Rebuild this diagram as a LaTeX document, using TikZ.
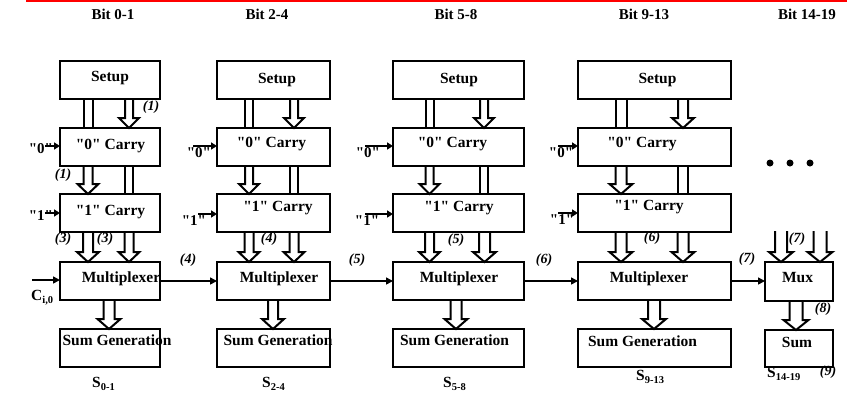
\documentclass[tikz,border=0pt]{standalone}
\usepackage{fontspec}
\setmainfont{Liberation Serif}[Ligatures=TeXOff]
\usetikzlibrary{calc,arrows.meta}
\newcommand\subtxt[1]{\raisebox{-3.5pt}{\fontsize{10.5}{11}\selectfont #1}}
% fat hollow arrow: start point, end point, x (px), half shaft width
\newcommand\fatarr[4]{%
  \draw[fatline] let \p1=#1, \p2=#2 in
    ({#3pt-#4pt},\y1) -- ({#3pt-#4pt},\y2+10pt) -- ({#3pt-#4pt-6pt},\y2+10pt)
    -- (#3pt,\y2) -- ({#3pt+#4pt+6pt},\y2+10pt) -- ({#3pt+#4pt},\y2+10pt)
    -- ({#3pt+#4pt},\y1);}
% pass-through double line
\newcommand\passln[4]{%
  \draw[fatline] let \p1=#1, \p2=#2 in
    ({#3pt-#4pt},\y1) -- ({#3pt-#4pt},\y2)
    ({#3pt+#4pt},\y1) -- ({#3pt+#4pt},\y2);}
\begin{document}
\begin{tikzpicture}[x=1pt,y=-1pt,
  box/.style={draw,line width=2.5pt,inner sep=0pt,outer sep=0pt},
  fatline/.style={line width=2pt,line join=miter},
  txt/.style={font=\fontsize{15.5}{17}\selectfont\bfseries,anchor=base,inner sep=0pt},
  lbl/.style={font=\fontsize{14}{16}\selectfont\bfseries\itshape,inner sep=0pt},
  hdr/.style={font=\fontsize{15}{17}\selectfont\bfseries,inner sep=0pt,anchor=base},
  inlbl/.style={font=\fontsize{15}{17}\selectfont\bfseries,inner sep=0pt,anchor=base},
  inarr/.style={line width=2.2pt,-{Triangle[length=6pt,width=7pt]}},
  chain/.style={line width=1.6pt,-{Triangle[length=7pt,width=7pt]}},
]
\useasboundingbox (0,0) rectangle (847,394);
\draw[red,line width=2.5pt] (26,1) -- (847,1);

% headers
\node[hdr] (h1) at (113,19) {Bit 0-1};
\node[hdr] (h2) at (267,19) {Bit 2-4};
\node[hdr] (h3) at (456,19) {Bit 5-8};
\node[hdr] (h4) at (644,19) {Bit 9-13};
\node[hdr] (h5) at (807,19) {Bit 14-19};

% boxes column 1
\node[box,minimum width=100,minimum height=38] (s1) at (110,80) {};
\node[box,minimum width=100,minimum height=38] (z1) at (110,147) {};
\node[box,minimum width=100,minimum height=38] (o1) at (110,213) {};
\node[box,minimum width=100,minimum height=38] (m1) at (110,281) {};
\node[box,minimum width=100,minimum height=38] (g1) at (110,348) {};
% column 2
\node[box,minimum width=113,minimum height=38] (s2) at (273.5,80) {};
\node[box,minimum width=113,minimum height=38] (z2) at (273.5,147) {};
\node[box,minimum width=113,minimum height=38] (o2) at (273.5,213) {};
\node[box,minimum width=113,minimum height=38] (m2) at (273.5,281) {};
\node[box,minimum width=113,minimum height=38] (g2) at (273.5,348) {};
% column 3
\node[box,minimum width=131,minimum height=38] (s3) at (458.5,80) {};
\node[box,minimum width=131,minimum height=38] (z3) at (458.5,147) {};
\node[box,minimum width=131,minimum height=38] (o3) at (458.5,213) {};
\node[box,minimum width=131,minimum height=38] (m3) at (458.5,281) {};
\node[box,minimum width=131,minimum height=38] (g3) at (458.5,348) {};
% column 4
\node[box,minimum width=153,minimum height=38] (s4) at (654.5,80) {};
\node[box,minimum width=153,minimum height=38] (z4) at (654.5,147) {};
\node[box,minimum width=153,minimum height=38] (o4) at (654.5,213) {};
\node[box,minimum width=153,minimum height=38] (m4) at (654.5,281) {};
\node[box,minimum width=153,minimum height=38] (g4) at (654.5,348) {};
% column 5
\node[box,minimum width=68,minimum height=39] (m5) at (799,281.5) {};
\node[box,minimum width=68,minimum height=37] (g5) at (799,348.5) {};

% box texts
\node[txt] (ts1) at (110,81) {Setup};
\node[txt] (tz1) at (110.5,149) {"0" Carry};
\node[txt] (to1) at (110.5,215) {"1" Carry};
\node[txt] (tm1) at (121,282) {Multiplexer};
\node[txt] (tg1) at (117,345) {Sum Generation};
\node[txt] (ts2) at (277,83) {Setup};
\node[txt] (tz2) at (271.5,147) {"0" Carry};
\node[txt] (to2) at (278,211) {"1" Carry};
\node[txt] (tm2) at (279,282) {Multiplexer};
\node[txt] (tg2) at (278,345) {Sum Generation};
\node[txt] (ts3) at (459,83) {Setup};
\node[txt] (tz3) at (452.5,147) {"0" Carry};
\node[txt] (to3) at (459,211) {"1" Carry};
\node[txt] (tm3) at (459,282) {Multiplexer};
\node[txt] (tg3) at (454.5,345) {Sum Generation};
\node[txt] (ts4) at (657.5,83) {Setup};
\node[txt] (tz4) at (642,147) {"0" Carry};
\node[txt] (to4) at (649,210) {"1" Carry};
\node[txt] (tm4) at (649,282) {Multiplexer};
\node[txt] (tg4) at (642.5,346) {Sum Generation};
\node[txt] (tm5) at (797.5,282) {Mux};
\node[txt] (tg5) at (797,347) {Sum};

% fat arrows column 1
\passln{(s1.south)}{(z1.north)}{88}{4.5}
\fatarr{(s1.south)}{(z1.north)}{129}{4}
\fatarr{(z1.south)}{(o1.north)}{88}{4.5}
\passln{(z1.south)}{(o1.north)}{129}{4}
\fatarr{(o1.south)}{(m1.north)}{88}{5}
\fatarr{(o1.south)}{(m1.north)}{129}{4.5}
\fatarr{(m1.south)}{(g1.north)}{109}{5.5}
% column 2
\passln{(s2.south)}{(z2.north)}{249}{4}
\fatarr{(s2.south)}{(z2.north)}{294}{4}
\fatarr{(z2.south)}{(o2.north)}{249}{4}
\passln{(z2.south)}{(o2.north)}{294}{4}
\fatarr{(o2.south)}{(m2.north)}{249}{4.5}
\fatarr{(o2.south)}{(m2.north)}{294}{4.5}
\fatarr{(m2.south)}{(g2.north)}{273}{5}
% column 3
\passln{(s3.south)}{(z3.north)}{429.5}{4}
\fatarr{(s3.south)}{(z3.north)}{484}{4}
\fatarr{(z3.south)}{(o3.north)}{429.5}{4}
\passln{(z3.south)}{(o3.north)}{484}{4}
\fatarr{(o3.south)}{(m3.north)}{429.5}{4.5}
\fatarr{(o3.south)}{(m3.north)}{484.5}{5.5}
\fatarr{(m3.south)}{(g3.north)}{456}{5.5}
% column 4
\passln{(s4.south)}{(z4.north)}{621}{5.5}
\fatarr{(s4.south)}{(z4.north)}{683}{5}
\fatarr{(z4.south)}{(o4.north)}{621}{5.5}
\passln{(z4.south)}{(o4.north)}{683}{5}
\fatarr{(o4.south)}{(m4.north)}{621}{5.5}
\fatarr{(o4.south)}{(m4.north)}{683}{5.5}
\fatarr{(m4.south)}{(g4.north)}{654}{6}
% column 5
\coordinate (c5l) at (781,231);
\coordinate (c5r) at (820,231);
\fatarr{(c5l)}{(m5.north)}{781}{6}
\fatarr{(c5r)}{(m5.north)}{820}{6.5}
\fatarr{(m5.south)}{(g5.north)}{796}{6.5}

% carry inputs
\coordinate (a01) at (45,146);  \coordinate (a11) at (45,213);
\coordinate (a02) at (193,146); \coordinate (a12) at (198,214);
\coordinate (a03) at (365,146); \coordinate (a13) at (365,214);
\coordinate (a04) at (558,146); \coordinate (a14) at (558,213);
\foreach \c/\b in {a01/z1,a11/o1,a02/z2,a12/o2,a03/z3,a13/o3,a04/z4,a14/o4}
  \draw[inarr] (\c) -- (\c -| \b.west);
\node[inlbl] (n01) at (41,153) {"0"};
\node[inlbl] (n11) at (41,220) {"1"};
\node[inlbl] (n02) at (199,157) {"0"};
\node[inlbl] (n12) at (194,225) {"1"};
\node[inlbl] (n03) at (368,157) {"0"};
\node[inlbl] (n13) at (367,225) {"1"};
\node[inlbl] (n04) at (561,157) {"0"};
\node[inlbl] (n14) at (562,224) {"1"};

% carry-in and multiplexer chain
\coordinate (cin0) at (32,280);
\draw[chain] (cin0) -- (cin0 -| m1.west);
\node[txt,anchor=base west] (cin) at (31,300) {C\subtxt{i,0}};
\draw[chain] (m1.east) -- (m1.east -| m2.west);
\draw[chain] (m2.east) -- (m2.east -| m3.west);
\draw[chain] (m3.east) -- (m3.east -| m4.west);
\draw[chain] (m4.east) -- (m4.east -| m5.west);

% sum outputs
\node[txt,anchor=base west] (so1) at (92,387) {S\subtxt{0-1}};
\node[txt,anchor=base west] (so2) at (262,387) {S\subtxt{2-4}};
\node[txt,anchor=base west] (so3) at (443,387) {S\subtxt{5-8}};
\node[txt,anchor=base west] (so4) at (636,380) {S\subtxt{9-13}};
\node[txt,anchor=base west] (so5) at (767,377) {S\subtxt{14-19}};

% step labels
\node[lbl] (l1a) at (151,107) {(1)};
\node[lbl] (l1b) at (63,175) {(1)};
\node[lbl] (l3a) at (63,239) {(3)};
\node[lbl] (l3b) at (105,239) {(3)};
\node[lbl] (l4a) at (188,260) {(4)};
\node[lbl] (l4b) at (269,239) {(4)};
\node[lbl] (l5a) at (357,260) {(5)};
\node[lbl] (l5b) at (456,240) {(5)};
\node[lbl] (l6a) at (544,260) {(6)};
\node[lbl] (l6b) at (652,238) {(6)};
\node[lbl] (l7a) at (747,259) {(7)};
\node[lbl] (l7b) at (797,239) {(7)};
\node[lbl] (l8) at (823,309) {(8)};
\node[lbl] (l9) at (828,372) {(9)};

% ellipsis dots
\foreach \xx in {770,790,810} \fill (\xx,163) circle[radius=3.5pt];
\end{tikzpicture}
\end{document}
